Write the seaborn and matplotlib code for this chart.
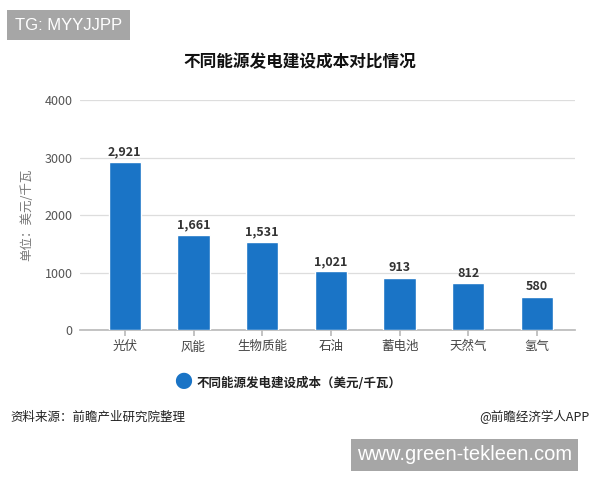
import matplotlib
matplotlib.use("Agg")
import matplotlib.pyplot as plt
import seaborn as sns
import pandas as pd

categories = ["光伏", "风能", "生物质能", "石油", "蓄电池", "天然气", "氢气"]
costs = [2921, 1661, 1531, 1021, 913, 812, 580]
yticks = [0, 1000, 2000, 3000, 4000]

sns.set_theme(style="white")
plt.rcParams["font.family"] = ["Noto Sans CJK SC", "DejaVu Sans"]

df = pd.DataFrame({"能源": categories, "成本": costs})
bar_color = "#1a74c6"

fig = plt.figure(figsize=(6, 4.8), dpi=100)
ax = fig.add_axes([0.133, 0.3125, 0.825, 0.479])

sns.barplot(data=df, x="能源", y="成本", color=bar_color, width=0.47,
            saturation=1, ax=ax, zorder=3)

ax.set_ylim(0, 4000)
ax.set_xlim(-0.655, 6.55)
ax.set_yticks(yticks)
ax.set_yticklabels([str(t) for t in yticks], color="#555555", fontsize=9)
ax.tick_params(axis="y", length=0, pad=5)
ax.tick_params(axis="x", length=4, color="#bbbbbb", labelsize=9, labelcolor="#444444",
               bottom=True, direction="out")
ax.yaxis.grid(True, color="#dddddd", linewidth=0.9, zorder=0)
for s in ["top", "right", "left"]:
    ax.spines[s].set_visible(False)
ax.spines["bottom"].set_color("#bbbbbb")
ax.set_xlabel("")
ax.set_ylabel("单位：美元/千瓦", color="#777777", fontsize=9, labelpad=8)

for i, v in enumerate(costs):
    ax.text(i, v + 60, f"{v:,}", ha="center", va="bottom", fontsize=9,
            fontweight="bold", color="#333333")

fig.text(0.5, 1 - 62 / 480, "不同能源发电建设成本对比情况", ha="center", va="center",
         fontsize=12, fontweight="bold", color="#111111")

# legend
fig.text(0.305, 1 - 383 / 480, "●", ha="center", va="center", fontsize=13, color=bar_color)
fig.text(0.327, 1 - 383 / 480, "不同能源发电建设成本（美元/千瓦）", ha="left", va="center",
         fontsize=9, fontweight="bold", color="#222222")

fig.text(10 / 600, 1 - 417 / 480, "资料来源：前瞻产业研究院整理", ha="left", va="center",
         fontsize=9, color="#222222")
fig.text(590 / 600, 1 - 417 / 480, "@前瞻经济学人APP", ha="right", va="center",
         fontsize=9, color="#222222")

# overlay labels
fig.text(15 / 600, 1 - 25 / 480, "TG: MYYJJPP", ha="left", va="center", fontsize=12,
         color="white", family=["Liberation Sans"],
         bbox=dict(boxstyle="square,pad=0.45", fc="#a6a6a6", ec="none"))
fig.text(357 / 600, 1 - 455 / 480, "www.green-tekleen.com", ha="left", va="center",
         fontsize=14.5, color="white", family=["Liberation Sans"],
         bbox=dict(boxstyle="square,pad=0.3", fc="#a6a6a6", ec="none"))

fig.savefig("out.png", dpi=100)
